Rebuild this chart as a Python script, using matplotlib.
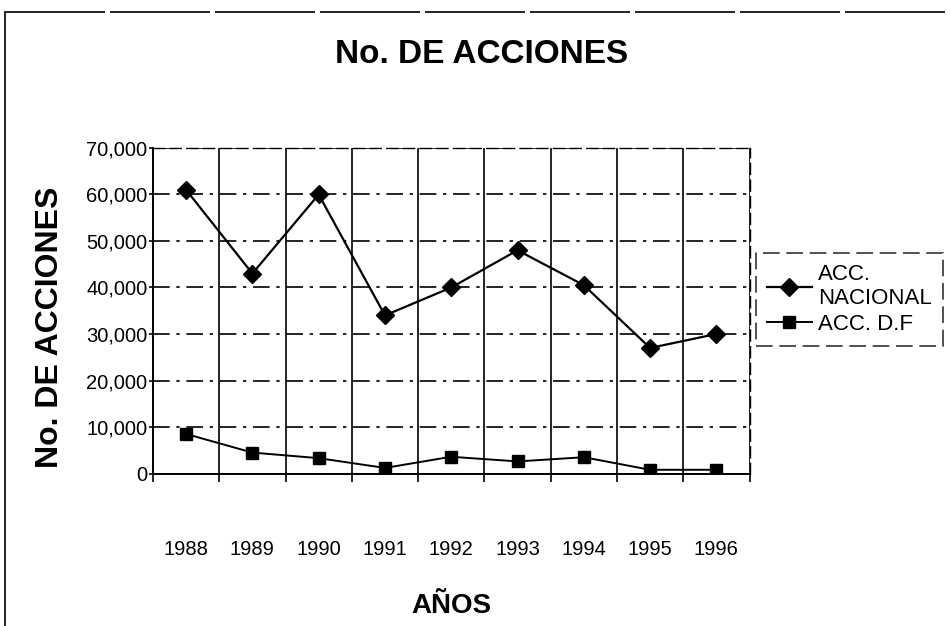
import numpy as np
import matplotlib.pyplot as plt
from matplotlib.ticker import FuncFormatter
from matplotlib.lines import Line2D

# datos
anios = ['1988', '1989', '1990', '1991', '1992', '1993', '1994', '1995', '1996']
acc_nacional = [61000, 43000, 60000, 34000, 40000, 48000, 40500, 27000, 30000]
acc_df = [8500, 4500, 3300, 1200, 3600, 2600, 3500, 800, 800]

plt.rcParams['font.family'] = ['Liberation Sans Narrow', 'Liberation Sans', 'DejaVu Sans']

fig = plt.figure(figsize=(9.5, 6.26), dpi=100)
fig.patch.set_facecolor('white')
ax = fig.add_axes([0.161, 0.2436, 0.628, 0.52])

x = np.arange(len(anios))
ax.plot(x, acc_nacional, color='black', lw=1.6, marker='D', ms=9,
        mfc='black', mec='black', zorder=3)
ax.plot(x, acc_df, color='black', lw=1.4, marker='s', ms=8,
        mfc='black', mec='black', zorder=3)

ax.set_xlim(-0.5, len(anios) - 0.5)
ax.set_ylim(0, 70000)
ax.set_yticks(np.arange(0, 70001, 10000))
ax.yaxis.set_major_formatter(FuncFormatter(lambda v, p: f'{int(v):,}'))
ax.set_xticks(x)
ax.set_xticklabels(anios)
ax.set_xticks(np.arange(-0.5, len(anios)), minor=True)
ax.tick_params(axis='x', which='major', length=0, pad=48, labelsize=14.5)
ax.tick_params(axis='x', which='minor', length=6, width=1.2, direction='out')
ax.tick_params(axis='y', length=3, width=1.2, direction='out', labelsize=14.5, pad=1)

# rejilla: horizontales discontinuas, verticales continuas
ax.grid(axis='y', which='major', color='black', lw=1.2, ls=(0, (10, 4, 2, 4)))
ax.grid(axis='x', which='minor', color='black', lw=1.2, ls='-')
ax.set_axisbelow(True)
for side in ['top', 'right']:
    ax.spines[side].set_linestyle((0, (8, 4)))
    ax.spines[side].set_linewidth(1.0)
ax.spines['left'].set_linewidth(1.4)
ax.spines['bottom'].set_linewidth(1.4)

ax.set_ylabel('No. DE ACCIONES', fontsize=23, fontweight='bold',
              family=['Liberation Sans', 'DejaVu Sans'])
ax.yaxis.set_label_coords(-0.147, 0.45)
ax.set_xlabel('AÑOS', fontsize=20, fontweight='bold', labelpad=24)
fig.text(0.507, 0.913, 'No. DE ACCIONES', ha='center', va='center',
         fontsize=24, fontweight='bold')

handles = [Line2D([], [], color='black', lw=1.6, marker='D', ms=9),
           Line2D([], [], color='black', lw=1.4, marker='s', ms=8)]
leg = fig.legend(handles, ['ACC.\nNACIONAL', 'ACC. D.F'], loc='upper left',
                 bbox_to_anchor=(756 / 950, 1 - 253 / 626), fontsize=16,
                 frameon=True, fancybox=False, edgecolor='black',
                 handlelength=2.0, handletextpad=0.3, borderpad=0.5,
                 labelspacing=0.2, borderaxespad=0)
leg.get_frame().set_linewidth(1.2)
leg.get_frame().set_linestyle((0, (10, 4)))

# marco del gráfico (izquierda y arriba)
fig.add_artist(Line2D([5 / 950, 5 / 950], [0, 1 - 12 / 626], color='black', lw=1.2))
fig.add_artist(Line2D([5 / 950, 1], [1 - 12 / 626, 1 - 12 / 626], color='black',
                      lw=1.2, ls=(0, (60, 3))))

fig.savefig('out.png', dpi=100, facecolor='white')
